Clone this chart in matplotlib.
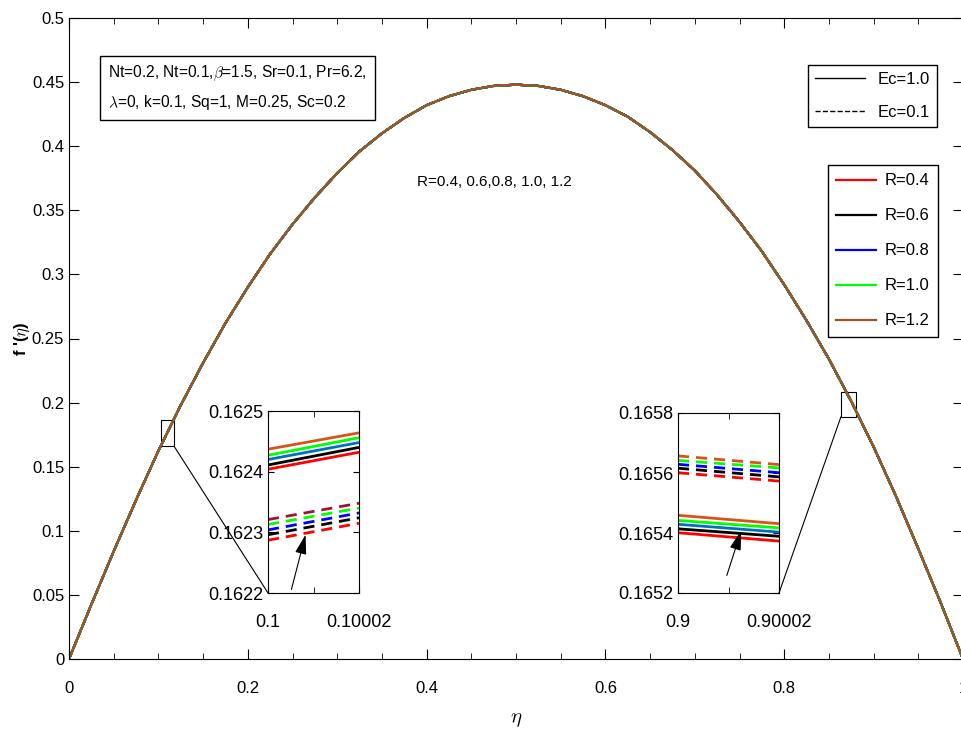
import numpy as np
import matplotlib.pyplot as plt
from matplotlib.patches import Rectangle, ConnectionPatch

plt.rcParams['font.family'] = ['Liberation Sans', 'DejaVu Sans']
plt.rcParams['mathtext.fontset'] = 'cm'

# main curve (all ten series overlap here)
eta = [0, 0.025, 0.05, 0.075, 0.1, 0.125, 0.15, 0.175, 0.2, 0.225, 0.25,
       0.275, 0.3, 0.325, 0.35, 0.375, 0.4, 0.425, 0.45, 0.475, 0.5,
       0.525, 0.55, 0.575, 0.6, 0.625, 0.65, 0.675, 0.7, 0.725, 0.75,
       0.775, 0.8, 0.825, 0.85, 0.875, 0.9, 0.925, 0.95, 0.975, 1.0]
fp = [0, 0.0425, 0.084, 0.124, 0.1624, 0.198, 0.231, 0.262, 0.290, 0.316, 0.339,
      0.360, 0.379, 0.396, 0.410, 0.422, 0.432, 0.439, 0.444, 0.447, 0.448,
      0.447, 0.444, 0.439, 0.432, 0.423, 0.411, 0.397, 0.381, 0.362, 0.341,
      0.318, 0.292, 0.264, 0.234, 0.201, 0.1655, 0.127, 0.086, 0.044, 0]

R_labels = ['R=0.4', 'R=0.6', 'R=0.8', 'R=1.0', 'R=1.2']
R_colors = ['#ff0000', '#000000', '#0000ff', '#00ff00', '#a0522d']

# inset 1 (eta 0.1 .. 0.10002)
x1 = [0.1, 0.10002]
in1_solid = [[0.162404, 0.162432], [0.162411, 0.16244], [0.16242, 0.162448],
             [0.162427, 0.162456], [0.162437, 0.162464]]
in1_dash = [[0.162287, 0.162315], [0.162296, 0.162324], [0.162304, 0.162332],
            [0.162313, 0.16234], [0.162321, 0.162348]]
# inset 2 (eta 0.9 .. 0.90002)
x2 = [0.9, 0.90002]
in2_solid = [[0.165401, 0.165373], [0.165414, 0.165389], [0.165429, 0.165403],
             [0.165442, 0.165417], [0.165459, 0.165431]]
in2_dash = [[0.165601, 0.165573], [0.165616, 0.165587], [0.165629, 0.165601],
            [0.165642, 0.165617], [0.165657, 0.165628]]
in1_solid_colors = ['#ff0000', '#000000', '#0072bd', '#00ff00', '#d95319']
in1_dash_colors = ['#ff0000', '#000000', '#0000ff', '#00ff00', '#a2142f']
in2_solid_colors = ['#ff0000', '#000000', '#0072bd', '#00ff00', '#d95319']
in2_dash_colors = ['#ff0000', '#000000', '#0000ff', '#00ff00', '#d95319']

fig = plt.figure(figsize=(9.61, 7.36), dpi=100)
ax = fig.add_axes([69/961, 77/736, 894/961, 641/736])

for i in range(5):
    ax.plot(eta, fp, '--', color=R_colors[i], lw=1.6)
rl = []
for i in range(5):
    l, = ax.plot(eta, fp, '-', color=R_colors[i], lw=1.6, label=R_labels[i])
    rl.append(l)

ax.set_xlim(0, 1)
ax.set_ylim(0, 0.5)
ax.set_xticks([0, 0.2, 0.4, 0.6, 0.8, 1.0])
ax.set_xticklabels(['0', '0.2', '0.4', '0.6', '0.8', '1'])
ax.set_xticks(np.arange(0, 1.0001, 0.05), minor=True)
ax.set_yticks(np.arange(0, 0.5001, 0.05))
ax.set_yticklabels(['0', '0.05', '0.1', '0.15', '0.2', '0.25', '0.3', '0.35', '0.4', '0.45', '0.5'])
ax.tick_params(which='both', direction='in', top=True, right=True, labelsize=12)
ax.tick_params(axis='x', which='both', pad=16)
ax.tick_params(which='major', length=7)
ax.tick_params(which='minor', length=4)
ax.set_xlabel(r'$\eta$', fontsize=15, labelpad=10)
ax.set_ylabel(r"f '($\eta$)", fontsize=12, fontweight='bold', labelpad=0)

# legends
ec1, = ax.plot([], [], 'k-', lw=1)
ec2, = ax.plot([], [], 'k--', lw=1)
leg1 = ax.legend([ec1, ec2], ['Ec=1.0', 'Ec=0.1'], loc='upper right',
                 bbox_to_anchor=(937/961, 671/736), bbox_transform=fig.transFigure,
                 fontsize=12, fancybox=False, edgecolor='black', framealpha=1,
                 labelspacing=1.1, handlelength=3.0, borderaxespad=0)
leg1.get_frame().set_linewidth(1)
ax.add_artist(leg1)
leg2 = ax.legend(rl, R_labels, loc='upper right',
                 bbox_to_anchor=(938/961, 571/736), bbox_transform=fig.transFigure,
                 fontsize=12, fancybox=False, edgecolor='black', framealpha=1,
                 labelspacing=1.2, handlelength=2.4, borderaxespad=0, handletextpad=0.5,
                 borderpad=0.5)
leg2.get_frame().set_linewidth(1)

fig.text(108/961, 1 - 64/736,
         'Nt=0.2, Nt=0.1,$\\beta$=1.5, Sr=0.1, Pr=6.2,\n$\\lambda$=0, k=0.1, Sq=1, M=0.25, Sc=0.2',
         fontsize=11.2, ha='left', va='top', linespacing=1.7,
         bbox=dict(boxstyle='square,pad=0.5', fc='white', ec='black', lw=1))
fig.text(494/961, 1 - 182/736, 'R=0.4, 0.6,0.8, 1.0, 1.2', fontsize=11, ha='center', va='center')

# zoom boxes on the main curve
r1 = Rectangle((0.103, 0.166), 0.0145, 0.0205, fill=False, ec='black', lw=0.8)
r2 = Rectangle((0.8635, 0.189), 0.0165, 0.0195, fill=False, ec='black', lw=0.8)
ax.add_patch(r1)
ax.add_patch(r2)

# inset 1
ia = fig.add_axes([268/961, 143/736, 91/961, 182/736])
for i in range(5):
    ia.plot(x1, in1_solid[i], '-', color=in1_solid_colors[i], lw=2)
    ia.plot(x1, in1_dash[i], '--', color=in1_dash_colors[i], lw=2, dashes=(4, 2.5))
ia.set_xlim(0.1, 0.10002)
ia.set_ylim(0.1622, 0.1625)
ia.set_xticks([0.1, 0.10002])
ia.set_xticklabels(['0.1', '0.10002'])
ia.set_xticks([0.10001], minor=True)
ia.set_yticks([0.1622, 0.1623, 0.1624, 0.1625])
ia.set_yticklabels(['0.1622', '0.1623', '0.1624', '0.1625'])
ia.tick_params(which='both', direction='in', top=True, right=True, labelsize=13, length=4)
ia.tick_params(axis='x', which='both', pad=15)
ia.annotate('', xy=(0.42, 0.335), xytext=(0.25, 0.005), xycoords='axes fraction',
            arrowprops=dict(arrowstyle='-|>,head_length=1.2,head_width=0.35', color='black', lw=0.8))

# inset 2
ib = fig.add_axes([678/961, 143/736, 101/961, 180/736])
for i in range(5):
    ib.plot(x2, in2_solid[i], '-', color=in2_solid_colors[i], lw=2)
    ib.plot(x2, in2_dash[i], '--', color=in2_dash_colors[i], lw=2, dashes=(4, 2.5))
ib.set_xlim(0.9, 0.90002)
ib.set_ylim(0.1652, 0.1658)
ib.set_xticks([0.9, 0.90002])
ib.set_xticklabels(['0.9', '0.90002'])
ib.set_xticks([0.90001], minor=True)
ib.set_yticks([0.1652, 0.1654, 0.1656, 0.1658])
ib.set_yticklabels(['0.1652', '0.1654', '0.1656', '0.1658'])
ib.tick_params(which='both', direction='in', top=True, right=True, labelsize=13, length=4)
ib.tick_params(axis='x', which='both', pad=15)
ib.annotate('', xy=(0.634, 0.361), xytext=(0.475, 0.083), xycoords='axes fraction',
            arrowprops=dict(arrowstyle='-|>,head_length=1.2,head_width=0.35', color='black', lw=0.8))

# connector lines from zoom boxes to insets
c1 = ConnectionPatch(xyA=(0.1175, 0.166), coordsA=ax.transData,
                     xyB=(0, 0), coordsB=ia.transAxes, color='black', lw=0.8)
c2 = ConnectionPatch(xyA=(0.8635, 0.189), coordsA=ax.transData,
                     xyB=(1, 0), coordsB=ib.transAxes, color='black', lw=0.8)
fig.add_artist(c1)
fig.add_artist(c2)

fig.savefig('out.png', dpi=100)
